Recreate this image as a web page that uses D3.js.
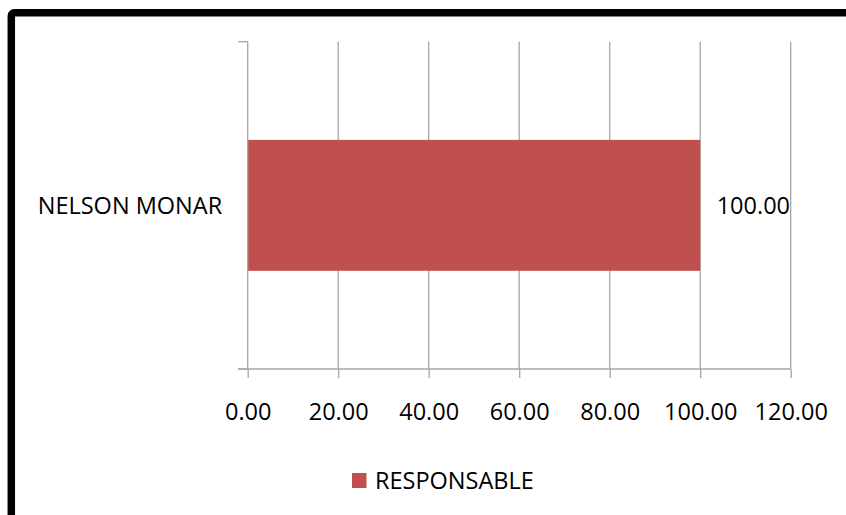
<!DOCTYPE html>
<html>
<head>
<meta charset="utf-8">
<script src="https://cdn.jsdelivr.net/npm/d3@7"></script>
<style>
  body { margin: 0; background: #fff; }
  text { font-family: 'Open Sans', sans-serif; fill: #000; }
</style>
</head>
<body>
<div id="chart"></div>
<script>
// Data
const categories = ['NELSON MONAR']
const values = [100]
const seriesName = 'RESPONSABLE'
const xTickValues = [0, 20, 40, 60, 80, 100, 120]

const width = 846
const height = 515
const barColor = '#c0504d'
const gridColor = '#a6a6a6'
const fontSize = '23.5px'

const svg = d3.select('#chart')
  .append('svg')
  .attr('width', width)
  .attr('height', height)

svg.append('rect')
  .attr('width', width)
  .attr('height', height)
  .attr('fill', '#fff')

// thick frame (top + left, runs past the window edges)
svg.append('rect')
  .attr('x', 11.3)
  .attr('y', 12.8)
  .attr('width', 900)
  .attr('height', 600)
  .attr('rx', 3)
  .attr('fill', 'none')
  .attr('stroke', '#000')
  .attr('stroke-width', 7.5)

// plot area
const plot = { left: 247.7, right: 790.7, top: 41.7, bottom: 369 }

const xScale = d3.scaleLinear()
  .domain([0, 120])
  .range([plot.left, plot.right])

const yScale = d3.scaleBand()
  .domain(categories)
  .range([plot.top, plot.bottom])
  .paddingInner(0.6)
  .paddingOuter(0.3)

// gridlines
svg.append('g')
  .selectAll('line')
  .data(xTickValues.slice(1))
  .join('line')
  .attr('x1', d => xScale(d))
  .attr('x2', d => xScale(d))
  .attr('y1', plot.top)
  .attr('y2', plot.bottom)
  .attr('stroke', gridColor)
  .attr('stroke-width', 1.3)

// bars
svg.append('g')
  .selectAll('rect')
  .data(values)
  .join('rect')
  .attr('x', xScale(0))
  .attr('y', (d, i) => yScale(categories[i]))
  .attr('width', d => xScale(d) - xScale(0))
  .attr('height', yScale.bandwidth())
  .attr('fill', barColor)

// x axis
const xAxis = d3.axisBottom(xScale)
  .tickValues(xTickValues)
  .tickFormat(d3.format('.2f'))
  .tickSize(9)
  .tickSizeOuter(0)
  .tickPadding(25)

const xAxisG = svg.append('g')
  .attr('transform', 'translate(0,' + plot.bottom + ')')
  .call(xAxis)

xAxisG.selectAll('text').style('font-size', fontSize).attr('fill', '#000')
xAxisG.selectAll('line').attr('stroke', gridColor).attr('stroke-width', 1.3)
xAxisG.select('.domain').remove()

svg.append('line')
  .attr('x1', plot.left - 9.5)
  .attr('x2', plot.right)
  .attr('y1', plot.bottom)
  .attr('y2', plot.bottom)
  .attr('stroke', gridColor)
  .attr('stroke-width', 1.3)

// y axis (category boundaries as ticks)
const yAxisG = svg.append('g')
yAxisG.append('line')
  .attr('x1', plot.left)
  .attr('x2', plot.left)
  .attr('y1', plot.top)
  .attr('y2', plot.bottom)
  .attr('stroke', gridColor)
  .attr('stroke-width', 1.3)

yAxisG.selectAll('.bound')
  .data(yScale.range())
  .join('line')
  .attr('class', 'bound')
  .attr('x1', plot.left - 9.5)
  .attr('x2', plot.left)
  .attr('y1', d => d)
  .attr('y2', d => d)
  .attr('stroke', gridColor)
  .attr('stroke-width', 1.3)

yAxisG.selectAll('.cat')
  .data(categories)
  .join('text')
  .attr('class', 'cat')
  .attr('x', plot.left - 25.5)
  .attr('y', d => yScale(d) + yScale.bandwidth() / 2)
  .attr('dy', '0.35em')
  .attr('text-anchor', 'end')
  .style('font-size', fontSize)
  .text(d => d)

// data labels
svg.append('g')
  .selectAll('text')
  .data(values)
  .join('text')
  .attr('x', d => xScale(d) + 16.5)
  .attr('y', (d, i) => yScale(categories[i]) + yScale.bandwidth() / 2)
  .attr('dy', '0.35em')
  .style('font-size', fontSize)
  .text(d => d3.format('.2f')(d))

// legend
const legend = svg.append('g').attr('transform', 'translate(352,473)')
legend.append('rect')
  .attr('width', 14.5)
  .attr('height', 15)
  .attr('fill', barColor)
legend.append('text')
  .attr('x', 23)
  .attr('y', 7.5)
  .attr('dy', '0.35em')
  .style('font-size', fontSize)
  .text(seriesName)
</script>
</body>
</html>
